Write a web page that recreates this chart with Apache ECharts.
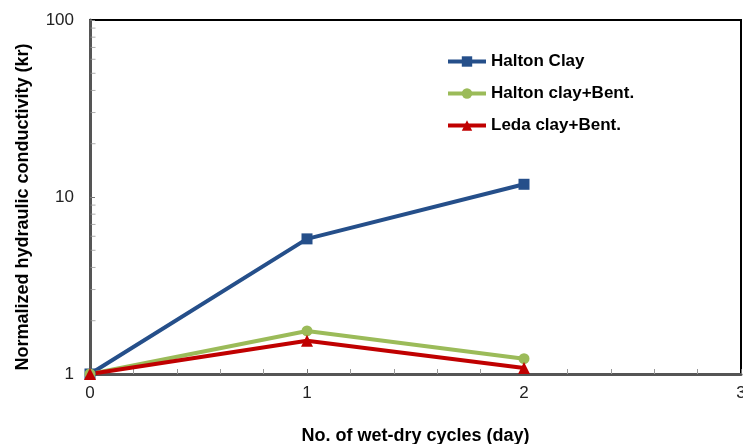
<!DOCTYPE html>
<html>
<head>
<meta charset="utf-8">
<script src="https://cdn.jsdelivr.net/npm/echarts@6/dist/echarts.min.js"></script>
<style>
    html, body { margin: 0; padding: 0; background: #fff; }
    #chart { width: 743px; height: 444px; }
</style>
</head>
<body>
<div id="chart"></div>
<script>
// wet-dry cycles
const cycles = [0, 1, 2];
const haltonClay = [1, 5.8, 11.8];
const haltonBent = [1, 1.75, 1.22];
const ledaBent = [1, 1.54, 1.08];
// log minor ticks on the y axis
const yMinorTicks = [2, 3, 4, 5, 6, 7, 8, 9, 20, 30, 40, 50, 60, 70, 80, 90];

const font = "'Liberation Sans', Arial, sans-serif";

const chart = echarts.init(document.getElementById("chart"));

function lineSeries(name, data, color, symbol, size) {
    return {
        name: name,
        type: "line",
        data: cycles.map((c, i) => [c, data[i]]),
        symbol: symbol,
        symbolSize: size,
        lineStyle: { color: color, width: 4 },
        itemStyle: { color: color },
        z: 5,
    };
}

const option = {
    animation: false,
    grid: {
        left: 90,
        right: 2,
        top: 20,
        bottom: 70,
        outerBoundsMode: "none",
        show: true,
        borderColor: "#000",
        borderWidth: 2,
    },
    legend: {
        orient: "vertical",
        left: 441,
        top: 48,
        itemWidth: 38,
        itemHeight: 13,
        itemGap: 15,
        textStyle: { fontFamily: font, fontWeight: "bold", fontSize: 17, color: "#000" },
        data: [
            { name: "Halton Clay", lineStyle: { width: 4 } },
            { name: "Halton clay+Bent.", lineStyle: { width: 4 } },
            { name: "Leda clay+Bent.", lineStyle: { width: 4 } },
        ],
    },
    xAxis: {
        type: "value",
        min: 0,
        max: 3,
        interval: 1,
        name: "No. of wet-dry cycles (day)",
        nameLocation: "middle",
        nameGap: 53,
        nameTextStyle: { fontFamily: font, fontWeight: "bold", fontSize: 18, color: "#000" },
        axisLine: { lineStyle: { color: "#555", width: 3 } },
        axisTick: { inside: true, length: 5, lineStyle: { color: "#777" } },
        minorTick: { show: true, splitNumber: 5, length: 5, lineStyle: { color: "#999" } },
        axisLabel: { fontFamily: font, fontSize: 17, color: "#222", margin: 11 },
        splitLine: { show: false },
    },
    yAxis: {
        type: "log",
        logBase: 10,
        min: 1,
        max: 100,
        name: "Normalized hydraulic conductivity (kr)",
        nameLocation: "middle",
        nameGap: 58,
        nameTextStyle: {
            fontFamily: font,
            fontWeight: "bold",
            fontSize: 18,
            color: "#000",
            padding: [0, 20, 0, 0],
        },
        axisLine: { lineStyle: { color: "#555", width: 3 } },
        axisTick: { inside: true, length: 5, lineStyle: { color: "#777" } },
        axisLabel: { fontFamily: font, fontSize: 17, color: "#222", margin: 16 },
        splitLine: { show: false },
    },
    series: [
        lineSeries("Halton Clay", haltonClay, "#254F8A", "rect", 11),
        lineSeries("Halton clay+Bent.", haltonBent, "#9BBB59", "circle", 11),
        lineSeries("Leda clay+Bent.", ledaBent, "#C00000", "triangle", 12),
        {
            name: "minor",
            type: "scatter",
            silent: true,
            data: yMinorTicks.map((v) => [0, v]),
            symbol: "rect",
            symbolSize: [5, 1],
            symbolOffset: [3, 0],
            itemStyle: { color: "#999" },
            z: 1,
        },
    ],
};

chart.setOption(option);
</script>
</body>
</html>
